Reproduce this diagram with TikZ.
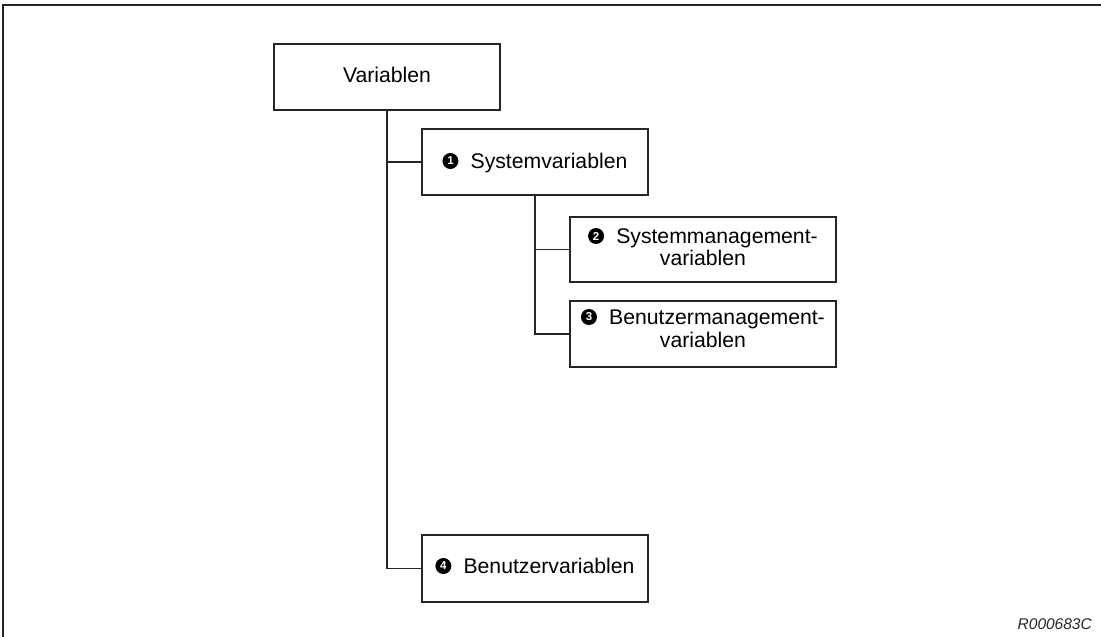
\documentclass[tikz,border=0pt]{standalone}
\usepackage{fontspec}
\setmainfont{Liberation Sans}
\usetikzlibrary{calc}
\begin{document}
\begin{tikzpicture}[x=1pt,y=-1pt,
  frame/.style={draw=black!85,line width=1.2pt,rectangle,inner sep=0pt,
    minimum width=226pt,minimum height=66pt},
  wideframe/.style={frame,minimum width=266pt},
  txt/.style={inner sep=0pt,anchor=base,font=\fontsize{21.2}{23}\selectfont,text=black},
  badge/.style={circle,fill=black,inner sep=0pt,minimum size=16pt,text=white,
    font=\bfseries\fontsize{11.5}{11.5}\selectfont},
  link/.style={draw=black!85,line width=1.2pt}]
\useasboundingbox (0,0) rectangle (1101,637);
% open frame (top and left edges)
\draw[line width=1.5pt,black!85] (3,637) -- (3,5) -- (1101,5);

% boxes
\node[frame] (var) at (387,77) {};
\node[frame] (sys) at (535,162) {};
\node[wideframe,minimum height=65pt,line width=2pt] (sm) at (703,249.5) {};
\node[wideframe] (bm) at (703,334) {};
\node[frame,minimum height=67pt] (bv) at (535,568.5) {};

% labels
\node[txt] (t0) at (387,82.5) {Variablen};
\node[txt] (t1) at (535,168) {\hspace{28pt}Systemvariablen};
\node[txt] (t2a) at (703,243) {\hspace{28pt}Systemmanagement-};
\node[txt] (t2b) at (703,265.5) {variablen};
\node[txt] (t3a) at (703,324) {\hspace{28pt}Benutzermanagement-};
\node[txt] (t3b) at (703,347.5) {variablen};
\node[txt] (t4) at (535,573) {\hspace{28pt}Benutzervariablen};

% numbered markers
\node[badge] (b1) at ($(t1.base west)+(8,-7)$) {1};
\node[badge] (b2) at ($(t2a.base west)+(8,-7)$) {2};
\node[badge] (b3) at ($(t3a.base west)+(8,-7)$) {3};
\node[badge] (b4) at ($(t4.base west)+(8,-7)$) {4};

% tree connectors
\draw[link] (var.south) |- (sys.west);
\draw[link] (var.south) |- (bv.west);
\draw[link] (sys.south) |- (sm.west);
\draw[link] (sys.south) |- (bm.west);

\node[anchor=base east,inner sep=0pt,font=\itshape\fontsize{15.5}{16}\selectfont,text=black!85] (ref) at (1092,629) {R000683C};
\end{tikzpicture}
\end{document}
